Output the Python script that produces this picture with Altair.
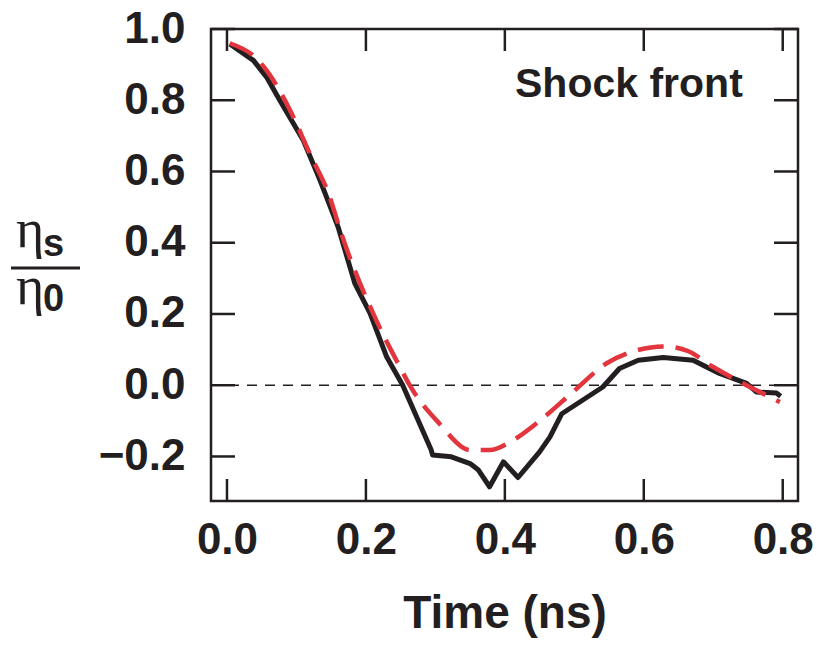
import altair as alt
import pandas as pd

# ---- data ----
black_t = [0.004, 0.038, 0.057, 0.076, 0.110, 0.134, 0.160, 0.184, 0.206, 0.230, 0.253,
           0.294, 0.296, 0.323, 0.350, 0.362, 0.378, 0.398, 0.419, 0.450, 0.465, 0.482,
           0.541, 0.565, 0.592, 0.628, 0.671, 0.709, 0.748, 0.762, 0.791, 0.797]
black_v = [0.958, 0.912, 0.865, 0.800, 0.687, 0.575, 0.444, 0.286, 0.202, 0.079, 0.000,
           -0.182, -0.196, -0.201, -0.220, -0.238, -0.285, -0.215, -0.259, -0.187, -0.145, -0.080,
           -0.005, 0.047, 0.070, 0.078, 0.070, 0.033, 0.005, -0.019, -0.022, -0.031]

red_t = [0.004, 0.043, 0.057, 0.091, 0.119, 0.148, 0.163, 0.215, 0.249, 0.263, 0.306,
         0.350, 0.378, 0.412, 0.450, 0.498, 0.546, 0.590, 0.628, 0.661, 0.700, 0.743, 0.796]
red_v = [0.960, 0.916, 0.884, 0.771, 0.651, 0.528, 0.435, 0.182, 0.051, 0.000, -0.108,
         -0.182, -0.182, -0.154, -0.100, -0.019, 0.061, 0.098, 0.109, 0.098, 0.051, 0.005, -0.047]

x_ticks = [0.0, 0.2, 0.4, 0.6, 0.8]
y_ticks = [-0.2, 0.0, 0.2, 0.4, 0.6, 0.8, 1.0]
x_title = "Time (ns)"
panel_label = "Shock front"

# ---- style ----
W, H = 587, 472
INK = "#231f20"
RED = "#e2353d"
FONT = "Liberation Sans"
SERIF = "Liberation Serif"

xs = alt.Scale(domain=[-0.023, 0.822], nice=False, zero=False)
ys = alt.Scale(domain=[-0.325, 1.0], nice=False, zero=False)

x_axis = alt.Axis(values=x_ticks, format=".1f", title=x_title, labelPadding=17,
                  titlePadding=29, tickSize=0, ticks=False, domain=False, grid=False)
y_axis = alt.Axis(values=y_ticks, format=".1f", title=None, labelPadding=26,
                  tickSize=0, ticks=False, domain=False, grid=False)

def X():
    return alt.X("t:Q", scale=xs, axis=x_axis, title=x_title)

def Y():
    return alt.Y("v:Q", scale=ys, axis=y_axis, title=None)

black_df = pd.DataFrame({"t": black_t, "v": black_v})
red_df = pd.DataFrame({"t": red_t, "v": red_v})

black = alt.Chart(black_df).mark_line(color=INK, strokeWidth=5, strokeJoin="round").encode(
    x=X(), y=Y(), order="t:Q")

red = alt.Chart(red_df).mark_line(color=RED, strokeWidth=4.5, strokeDash=[26, 12],
                                  interpolate="monotone").encode(x=X(), y=Y(), order="t:Q")

zero = alt.Chart(pd.DataFrame({"v": [0.0]})).mark_rule(
    color=INK, strokeWidth=1.5, strokeDash=[10, 8]).encode(
    y=Y(), x=alt.value(0), x2=alt.value(W))

xt_df = pd.DataFrame({"t": x_ticks})
yt_df = pd.DataFrame({"v": y_ticks})
tick_style = dict(color=INK, strokeWidth=2.5)
xt_bot = alt.Chart(xt_df).mark_rule(**tick_style).encode(
    x=X(), y=alt.value(H - 22), y2=alt.value(H))
xt_top = alt.Chart(xt_df).mark_rule(**tick_style).encode(
    x=X(), y=alt.value(0), y2=alt.value(22))
yt_left = alt.Chart(yt_df).mark_rule(**tick_style).encode(
    y=Y(), x=alt.value(0), x2=alt.value(24))
yt_right = alt.Chart(yt_df).mark_rule(**tick_style).encode(
    y=Y(), x=alt.value(W - 24), x2=alt.value(W))

def txt(s, x, y, size, font=FONT, weight="bold", align="left"):
    return alt.Chart(pd.DataFrame({"s": [s]})).mark_text(
        font=font, fontSize=size, fontWeight=weight, color=INK, align=align,
        baseline="alphabetic").encode(text="s:N", x=alt.value(x), y=alt.value(y))

label = txt(panel_label, 304, 68, 41)
eta_top = txt("η", -181, 218, 54, font=SERIF, weight="normal", align="center")
s_sub = txt("s", -168, 227, 38)
eta_bot = txt("η", -181, 275, 54, font=SERIF, weight="normal", align="center")
zero_sub = txt("0", -168, 282, 38)
bar = alt.Chart(pd.DataFrame({"a": [0]})).mark_rule(color=INK, strokeWidth=3).encode(
    x=alt.value(-200), x2=alt.value(-131), y=alt.value(239))

chart = alt.layer(
    black, zero, xt_bot, xt_top, yt_left, yt_right, red,
    label, eta_top, s_sub, eta_bot, zero_sub, bar,
).properties(
    width=W, height=H,
    autosize=alt.AutoSizeParams(type="none"),
    padding={"left": 211, "top": 29, "right": 21, "bottom": 148},
).configure_view(
    stroke=INK, strokeWidth=2.5,
).configure_axis(
    labelFont=FONT, labelFontWeight="bold", labelFontSize=44, labelColor=INK,
    titleFont=FONT, titleFontWeight="bold", titleFontSize=46, titleColor=INK,
)

chart.save("out.html", embed_options={"renderer": "svg", "actions": False})
